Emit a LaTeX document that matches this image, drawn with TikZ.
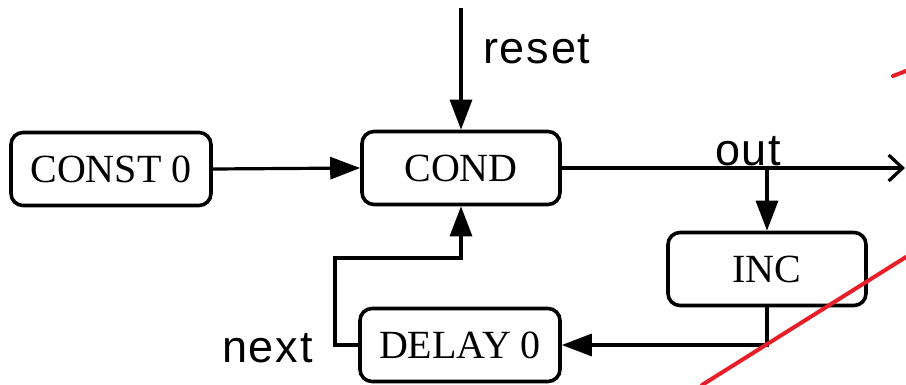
\documentclass[tikz,border=0pt]{standalone}
\usepackage{fontspec}
\setmainfont{Liberation Serif}
\newfontfamily\lblfont{Liberation Sans}[LetterSpace=4]
\usetikzlibrary{arrows.meta}
\definecolor{penred}{RGB}{232,30,40}
\tikzset{
  blockbox/.style={draw=black, line width=3.6pt, rounded corners=12pt, fill=white,
    minimum width=198pt, minimum height=73pt, inner sep=0pt, font=\fontsize{40}{42}\selectfont},
  wire/.style={line width=3.2pt},
  flow/.style={wire, -{Triangle[length=30pt,width=22pt]}},
  openflow/.style={wire, -{Straight Barb[length=14pt,width=26pt,line width=3.2pt]}},
  lbl/.style={font=\lblfont\fontsize{45}{47}\selectfont, inner sep=0pt},
  redmark/.style={draw=penred, line width=4pt, line cap=round}
}
\begin{document}
\begin{tikzpicture}[x=1pt,y=-1pt]
\useasboundingbox (0,0) rectangle (906,385);
\node[blockbox, minimum width=200pt] (const) at (111,169) {CONST 0};
\node[blockbox] (cond) at (461,168) {COND};
\node[blockbox] (inc) at (767,269) {INC};
\node[blockbox, minimum width=200pt] (delay) at (460,345) {DELAY 0};
\coordinate (rtop) at (461,8);
\coordinate (outend) at (905,168);
\coordinate (tap) at (767,168);
\coordinate (incdown) at (767,345);
\node[lbl, anchor=base west] (reset) at (483,64) {reset};
\node[lbl, anchor=base west] (out) at (715,166) {out};
\node[lbl, anchor=base west] (next) at (222,362) {next};
\draw[flow] (rtop) -- (cond.north);
\draw[flow] (const.east) -- (cond.west);
\draw[openflow] (cond.east) -- (outend);
\draw[flow] (tap) -- (inc.north);
\draw[flow] (inc.south) -- (incdown) -- (delay.east);
\draw[flow] (delay.west) -- (335,345) -- (335,258) -- (461,258) -- (cond.south);
\draw[redmark] (893,76) -- (906,71);
\draw[redmark] (702,385) -- (906,257);
\end{tikzpicture}
\end{document}
